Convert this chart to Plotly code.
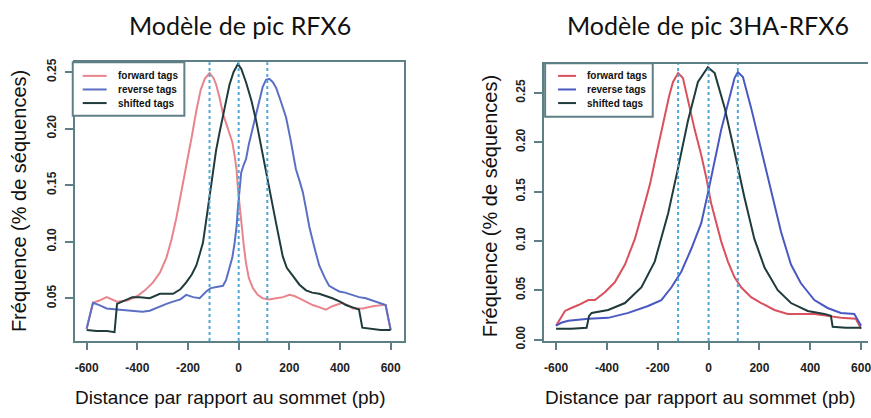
import plotly.graph_objects as go

# ---------------- Data: Modèle de pic RFX6 ----------------
fwd1_x = [-600, -575, -550, -521, -480, -440, -400, -370, -338, -310, -285, -265, -246, -225, -207, -185, -167, -150, -134, -115,
          -100, -89, -75, -62, -50, -36, -25, -16, -8, -3, 5, 10, 20, 29, 40, 56, 75, 95, 120, 148, 175, 200, 220, 240, 265, 292,
          320, 344, 370, 395, 410, 430, 450, 490, 530, 567, 580, 600]
fwd1_y = [0.023, 0.046, 0.048, 0.051, 0.047, 0.048, 0.052, 0.057, 0.064, 0.073, 0.086, 0.102, 0.121, 0.145, 0.167, 0.193, 0.216, 0.234, 0.244, 0.249,
          0.245, 0.239, 0.227, 0.213, 0.205, 0.196, 0.188, 0.176, 0.163, 0.147, 0.128, 0.116, 0.097, 0.081, 0.068, 0.059, 0.053, 0.050, 0.049, 0.050, 0.051, 0.053, 0.052, 0.050, 0.047, 0.044,
          0.042, 0.040, 0.043, 0.045, 0.046, 0.044, 0.041, 0.041, 0.043, 0.044, 0.044, 0.022]

rev1_x = [-600, -575, -550, -521, -480, -440, -416, -380, -351, -311, -285, -259, -230, -207, -180, -154, -128, -110, -89, -62, -50,
          -36, -25, -16, -8, -3, 5, 10, 20, 29, 40, 56, 70, 82, 95, 108, 121, 135, 148, 165, 187, 205, 226, 240, 253, 266, 279, 300,
          318, 340, 357, 380, 397, 420, 449, 475, 502, 541, 570, 580, 600]
rev1_y = [0.023, 0.046, 0.044, 0.041, 0.040, 0.039, 0.039, 0.038, 0.039, 0.043, 0.045, 0.047, 0.049, 0.053, 0.051, 0.050, 0.056, 0.059, 0.060, 0.061, 0.066,
          0.076, 0.086, 0.099, 0.114, 0.130, 0.148, 0.161, 0.168, 0.173, 0.186, 0.201, 0.215, 0.227, 0.237, 0.243, 0.244, 0.241, 0.236, 0.225, 0.210, 0.190, 0.164, 0.154, 0.144, 0.129, 0.113, 0.094,
          0.079, 0.068, 0.061, 0.058, 0.056, 0.055, 0.053, 0.051, 0.050, 0.047, 0.045, 0.044, 0.022]

sh1_x = [-600, -560, -520, -490, -480, -460, -443, -420, -390, -351, -311, -285, -259, -230, -207, -185, -167, -155, -141, -128, -115,
         -100, -89, -75, -62, -50, -36, -20, -3, 10, 29, 50, 69, 88, 108, 128, 148, 160, 174, 190, 213, 240, 266, 290, 318, 345,
         370, 400, 423, 450, 475, 488, 520, 560, 600]
sh1_y = [0.022, 0.021, 0.021, 0.020, 0.045, 0.047, 0.049, 0.051, 0.051, 0.050, 0.054, 0.054, 0.054, 0.058, 0.064, 0.071, 0.079, 0.088, 0.099, 0.119, 0.141,
         0.162, 0.181, 0.197, 0.210, 0.224, 0.239, 0.250, 0.257, 0.253, 0.241, 0.225, 0.207, 0.186, 0.164, 0.139, 0.116, 0.101, 0.087, 0.077, 0.070, 0.062, 0.057, 0.055, 0.054, 0.052,
         0.050, 0.047, 0.044, 0.042, 0.040, 0.024, 0.023, 0.022, 0.022]

peaks1 = [-115, 0, 113]

# ---------------- Data: Modèle de pic 3HA-RFX6 ----------------
fwd2_x = [-600, -565, -540, -512, -473, -447, -408, -369, -329, -290, -251, -230, -212, -190, -173, -155, -140, -120,
          -101, -81, -55, -29, -9, 10, 30, 50, 76, 102, 128, 167, 207, 259, 311, 363, 416, 468, 520, 579, 600]
fwd2_y = [0.014, 0.029, 0.032, 0.035, 0.040, 0.040, 0.048, 0.058, 0.076, 0.102, 0.138, 0.158, 0.180, 0.206, 0.226, 0.247, 0.261, 0.270,
          0.265, 0.242, 0.213, 0.187, 0.164, 0.138, 0.118, 0.099, 0.079, 0.063, 0.053, 0.043, 0.037, 0.030, 0.026, 0.026, 0.026, 0.024, 0.022, 0.021, 0.011]

rev2_x = [-600, -580, -552, -473, -395, -316, -238, -186, -146, -107, -68, -29, -3, 24, 50, 76, 102, 115, 135, 167, 207,
          246, 285, 324, 363, 416, 468, 520, 573, 600]
rev2_y = [0.014, 0.017, 0.019, 0.021, 0.022, 0.027, 0.034, 0.040, 0.053, 0.069, 0.092, 0.118, 0.148, 0.180, 0.213, 0.239, 0.265, 0.271, 0.266, 0.235, 0.193,
          0.151, 0.109, 0.076, 0.057, 0.040, 0.032, 0.027, 0.026, 0.014]

sh2_x = [-600, -540, -480, -470, -460, -395, -329, -264, -212, -159, -120, -81, -42, -3, 24, 63, 102, 141, 180, 220, 272,
         324, 390, 455, 481, 488, 540, 600]
sh2_y = [0.011, 0.011, 0.012, 0.024, 0.027, 0.030, 0.037, 0.053, 0.079, 0.128, 0.174, 0.222, 0.261, 0.276, 0.270, 0.235, 0.190, 0.144, 0.102, 0.073, 0.050,
         0.037, 0.029, 0.026, 0.024, 0.013, 0.012, 0.012]

peaks2 = [-120, 0, 115]

x_ticks = [-600, -400, -200, 0, 200, 400, 600]
y_ticks1 = [0.05, 0.10, 0.15, 0.20, 0.25]
y_ticks2 = [0.00, 0.05, 0.10, 0.15, 0.20, 0.25]

titles = ["Modèle de pic RFX6", "Modèle de pic 3HA-RFX6"]
x_title = "Distance par rapport au sommet (pb)"
y_title = "Fréquence (% de séquences)"
series_names = ["forward tags", "reverse tags", "shifted tags"]

# ---------------- Styling ----------------
W, H = 871, 418
box_col = "#5f7f86"
dot_col = "#4fa6d6"
red1, blue1, black1 = "#e8858c", "#5b6fc4", "#1f3b3b"
red2, blue2, black2 = "#d9505e", "#4a58c2", "#1f3b3b"


def px(v):
    return v / W


def py(v):
    return 1 - v / H


fig = go.Figure()


def add_panel(xa, ya, series, colors):
    for (xs, ys), name, col in zip(series, series_names, colors):
        fig.add_trace(go.Scatter(x=xs, y=ys, mode="lines", name=name,
                                 line=dict(color=col, width=2),
                                 xaxis=xa, yaxis=ya, showlegend=False))


add_panel("x", "y", [(fwd1_x, fwd1_y), (rev1_x, rev1_y), (sh1_x, sh1_y)], [red1, blue1, black1])
add_panel("x2", "y2", [(fwd2_x, fwd2_y), (rev2_x, rev2_y), (sh2_x, sh2_y)], [red2, blue2, black2])

for xr, yr, peaks in [("x", "y domain", peaks1), ("x2", "y2 domain", peaks2)]:
    for p in peaks:
        fig.add_shape(type="line", x0=p, x1=p, y0=0, y1=1, xref=xr, yref=yr,
                      line=dict(color=dot_col, width=2, dash="dot"))

tick_font = dict(family="Liberation Sans Narrow, Arial Narrow, sans-serif", size=12, color="#222222", weight="bold")
common_x = dict(tickvals=x_ticks, ticktext=[str(v) for v in x_ticks], ticks="outside", ticklen=7,
                tickcolor=box_col, tickwidth=1.5, showline=True, linecolor=box_col, linewidth=2, showgrid=False,
                zeroline=False, tickfont=tick_font, ticklabelstandoff=8, ticklabeloverflow="allow")
common_y = dict(ticks="outside", ticklen=8, tickcolor=box_col, tickwidth=1.5, showline=True, linecolor=box_col, linewidth=2,
                showgrid=False, zeroline=False, tickangle=-90, tickfont=tick_font, ticklabelstandoff=4)

fig.update_layout(
    width=W, height=H,
    margin=dict(l=0, r=0, t=0, b=0),
    paper_bgcolor="white", plot_bgcolor="white",
    showlegend=False,
    xaxis=dict(domain=[px(75), px(405)], range=[-647, 651], mirror=True, anchor="y", **common_x),
    yaxis=dict(domain=[py(347), py(60)], range=[0.0122, 0.2586], mirror=True, anchor="x",
               tickvals=y_ticks1, ticktext=["%.2f" % v for v in y_ticks1], **common_y),
    xaxis2=dict(domain=[px(546), 1.0], range=[-647, 627], mirror=True, anchor="y2", **common_x),
    yaxis2=dict(domain=[py(347), py(62)], range=[-0.0015, 0.279], mirror=False, anchor="x2",
                tickvals=y_ticks2, ticktext=["%.2f" % v for v in y_ticks2], **common_y),
)

# ---- legends (drawn as boxes, sample lines and text) ----
leg_font = dict(family="Liberation Sans Narrow, Arial Narrow, sans-serif", size=10, color="#111111", weight="bold")
legend_specs = [
    # box x0, x1, y0, y1, line x0, x1, text x, row ys, colors
    (73, 185, 60, 115, 83, 107, 116, [74, 88, 102], [red1, blue1, black1]),
    (547, 655, 61, 116, 560, 578, 587, [74, 88, 102], [red2, blue2, black2]),
]
for bx0, bx1, by0, by1, lx0, lx1, tx, rows, cols in legend_specs:
    fig.add_shape(type="rect", xref="paper", yref="paper", x0=px(bx0), x1=px(bx1), y0=py(by1), y1=py(by0),
                  line=dict(color=box_col, width=2), fillcolor="white", layer="above")
    for ry, col, name in zip(rows, cols, series_names):
        fig.add_shape(type="line", xref="paper", yref="paper", x0=px(lx0), x1=px(lx1), y0=py(ry), y1=py(ry),
                      line=dict(color=col, width=2), layer="above")
        fig.add_annotation(text=name, x=px(tx), y=py(ry), xref="paper", yref="paper", showarrow=False,
                           font=leg_font, xanchor="left", yanchor="middle")

title_font = dict(family="Lato, Liberation Sans, sans-serif", size=25, color="#111111")
axis_title_font = dict(family="Liberation Sans, Arial, sans-serif", size=20, color="#111111")
xtitle_font = dict(family="Liberation Sans Narrow, Arial Narrow, sans-serif", size=19, color="#111111")

for cx, t in zip([241, 710], titles):
    fig.add_annotation(text=t, x=px(cx), y=py(22), xref="paper", yref="paper",
                       showarrow=False, font=title_font, xanchor="center", yanchor="middle")
for cx in [231, 702]:
    fig.add_annotation(text=x_title, x=px(cx), y=py(405), xref="paper", yref="paper",
                       showarrow=False, font=xtitle_font, xanchor="center", yanchor="middle")
for cx, cy in [(19, 203), (492, 208)]:
    fig.add_annotation(text=y_title, x=px(cx), y=py(cy), xref="paper", yref="paper",
                       showarrow=False, font=axis_title_font, textangle=-90, xanchor="center", yanchor="middle")

fig.write_html("out.html", config={"displayModeBar": False},
               post_script="document.body.style.margin='0px';document.body.style.overflow='hidden';")
